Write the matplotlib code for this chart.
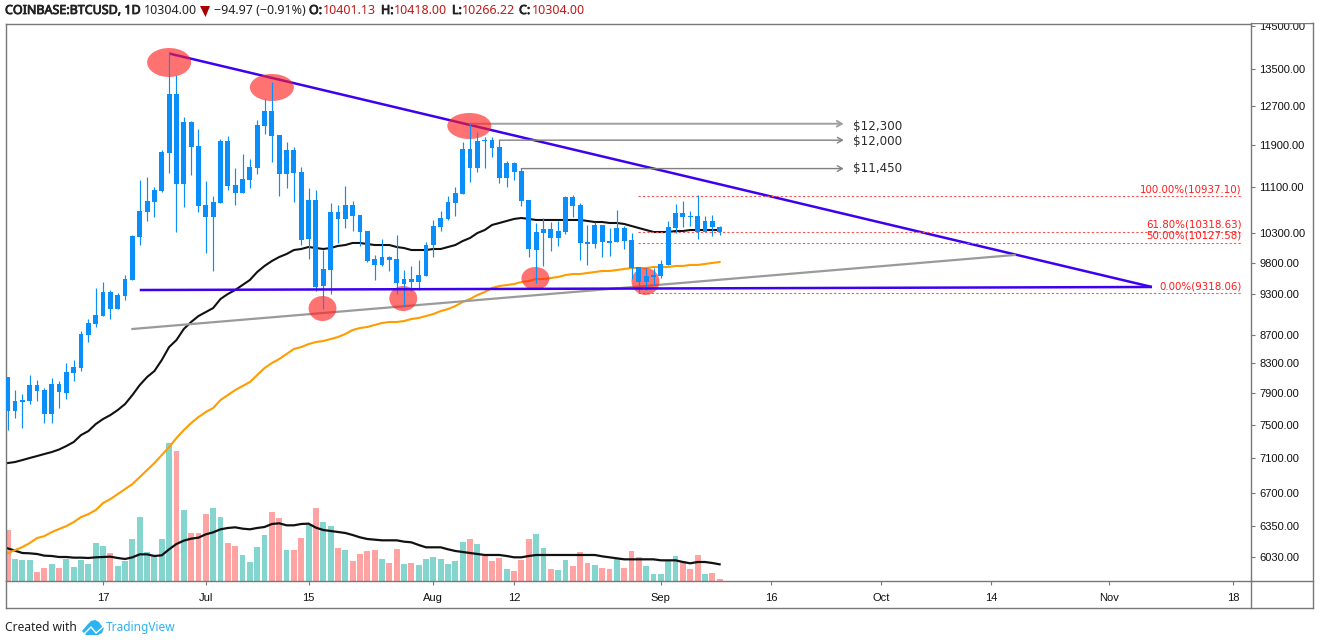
import numpy as np
import matplotlib
matplotlib.use('Agg')
import matplotlib.pyplot as plt
import matplotlib.patheffects as pe
from matplotlib.patches import Ellipse, Polygon, Rectangle
from matplotlib.lines import Line2D
from matplotlib.transforms import Affine2D

W, H = 1335, 644

# daily candles from 4 Jun 2019, index 0 is the first bar
high = [8115,7942,7890,8142,8075,7969,8102,8062,8305,8346,8756,8931,9400,9494,9369,9323,9604,10261,11236,11292,
        11107,11807,13881,13364,12469,12387,12223,11218,10943,12023,12083,11461,11729,11632,12407,12844,13211,12103,11964,11866,
        11480,11089,11052,10009,10818,10782,11126,10853,10606,10328,9927,10193,9911,10261,9684,9749,9845,10143,10518,10675,
        10943,11107,11964,12325,12163,12063,12063,12003,11594,11575,11461,10871,10466,10553,10483,10501,10943,10961,10818,10432,
        10483,10432,10379,10693,10414,10294,9732,9716,9716,9845,10501,10800,10853,10675,10961,10588,10606,10418]
body_top = [8115,7799,7812,8008,8008,7942,8022,8022,8182,8250,8712,8872,8990,9338,9338,9292,9541,10244,10675,10853,
            11052,11768,12951,12951,12366,12366,11885,10782,10835,11983,11983,11144,11255,11480,12305,12592,12592,12103,11807,11807,
            11386,10871,10871,9700,10658,10658,10782,10782,10606,10328,9861,9894,9894,9861,9541,9541,9604,10092,10414,10553,
            10835,10998,11827,11827,11983,12003,12003,11866,11556,11556,11404,10871,10311,10362,10362,10328,10925,10925,10782,10143,
            10432,10432,10159,10379,10379,10176,9732,9589,9604,9781,10397,10640,10640,10588,10588,10501,10501,10401]
body_bot = [7671,7671,7786,7799,7929,7634,7634,7916,7903,8169,8236,8698,8858,8975,9079,9079,9277,9525,10227,10658,
            10835,11034,11749,11162,11162,11866,10764,10571,10571,10818,11126,10998,10998,11236,11461,12285,12083,11348,11348,11367,
            10176,10193,9416,9431,9684,10536,10536,10588,10311,9829,9765,9765,9845,9478,9463,9494,9494,9589,10092,10397,
            10536,10818,10980,11461,11461,11983,11846,11273,11273,11386,10853,10026,10009,10294,10210,10210,10311,10764,10126,10109,
            10109,10143,10126,10143,10159,9716,9494,9494,9573,9589,9765,10379,10571,10571,10311,10311,10397,10304]
low = [7434,7583,7459,7761,7799,7521,7521,7710,7825,8062,8196,8598,8814,8975,8931,9079,9216,9525,10092,10501,
       10571,11016,11367,10311,10746,11329,10658,9960,9668,10818,11052,10782,10998,11089,11348,12123,11575,10943,11089,10835,
       10092,9861,9354,9079,9308,10126,10379,10328,10076,9813,9525,9749,9668,9308,9125,9354,9369,9589,9894,10328,
       10518,10588,10980,11199,11386,11461,11671,11181,11107,11236,10764,9894,9478,9749,9993,10076,10277,10571,9845,9765,
       10042,9894,9911,10143,10026,9541,9338,9369,9447,9557,9765,10294,10397,10414,10193,10311,10244,10266]

ma_black = [7040,7052,7075,7099,7122,7146,7169,7199,7241,7289,7373,7422,7508,7571,7621,7684,7761,7877,8008,8115,
            8196,8346,8527,8626,8785,8887,8975,9034,9094,9231,9308,9369,9447,9525,9652,9749,9829,9894,9943,10009,
            10026,10059,10042,10026,10042,10076,10092,10126,10126,10109,10092,10092,10092,10059,10042,10009,10009,10009,10026,10026,
            10059,10092,10159,10210,10294,10345,10432,10466,10501,10536,10553,10536,10518,10518,10518,10518,10518,10518,10518,10501,
            10483,10483,10466,10466,10449,10414,10379,10345,10311,10311,10311,10328,10328,10345,10345,10345,10345,10345]
ma_orange = [6067,6097,6128,6168,6220,6240,6281,6313,6344,6386,6439,6471,6514,6590,6633,6689,6744,6800,6879,6959,
             7040,7134,7229,7337,7434,7521,7596,7659,7710,7812,7877,7942,7995,8048,8142,8236,8305,8360,8429,8499,
             8527,8569,8598,8612,8640,8669,8712,8770,8799,8814,8843,8872,8887,8887,8901,8931,8946,8975,9005,9049,
             9079,9125,9186,9231,9292,9338,9400,9431,9447,9463,9494,9510,9541,9541,9557,9573,9604,9620,9620,9636,
             9652,9668,9668,9684,9700,9716,9716,9716,9732,9732,9732,9749,9749,9765,9765,9781,9797,9813]

volume = [153,66,63,63,27,39,51,39,66,42,63,51,114,105,84,45,60,126,192,87,
          75,126,414,390,213,144,144,201,219,192,114,105,78,57,102,138,207,189,93,93,
          129,168,219,177,165,99,93,60,81,90,93,66,54,96,51,54,48,66,72,66,
          51,60,117,126,111,75,60,69,36,30,63,126,141,99,36,33,63,45,87,54,
          48,39,36,66,39,90,72,45,21,21,63,75,60,36,78,21,24,6]
vol_dir = list('rgggrrgr' + 'gggggg' + 'r' + 'gggggggg' + 'rg' + 'rrr' + 'gg' + 'rr' + 'gggg' + 'rr' + 'g' + 'rr' + 'gr' + 'gg'
               + 'rg' + 'rrrr' + 'g' + 'rr' + 'gr' + 'ggggggg' + 'rg' + 'rrr' + 'g' + 'rrr' + 'gg' + 'r' + 'gg' + 'rrr'
               + 'g' + 'rr' + 'g' + 'rrr' + 'ggggg' + 'rrr' + 'g' + 'rr')
vol_ma = [98,91,84,83,81,76,75,72,72,70,70,69,71,72,73,69,66,71,80,80,
          75,77,95,111,121,127,130,140,146,155,159,161,157,155,159,162,171,173,167,167,
          171,172,160,153,150,147,144,138,131,126,124,122,122,122,118,116,108,101,101,101,
          95,90,87,84,81,78,78,78,75,71,71,75,78,78,78,78,78,78,78,78,
          78,74,71,68,65,65,65,65,65,62,62,62,57,53,57,57,54,50]

price_ticks = [14500,13500,12700,11900,11100,10300,9800,9300,8700,8300,7900,7500,7100,6700,6350,6030]
date_pos = [13,27,41,58,69,89,104,119,134,150,167]
date_labels = ['17','Jul','15','Aug','12','Sep','16','Oct','14','Nov','18']

fib_levels = [10937.10,10318.63,10127.58,9318.06]
fib_labels = ['100.00%(10937.10)','61.80%(10318.63)','50.00%(10127.58)','0.00%(9318.06)']

# drawings: day index, low price, high price, width in days
blobs = [(22,13320,13973,6),(36,12802,13386,6),(62.9,12023,12551,6),(42.9,8901,9277,3.8),
         (53.9,9049,9431,3.8),(71.9,9369,9732,3.8),(86.9,9292,9716,3.8)]
targets = [(63,12330,12270,'$12,300','#a0a0a0',1.4),(67,12000,11977,'$12,000','#808080',1.0),(70,11450,11445,'$11,450','#808080',1.0)]

days = np.arange(len(high))

fig = plt.figure(figsize=(W/100,H/100),dpi=100)
rect = [5.5/W,1-581/H,1245/W,557.5/H]

vol_ax = fig.add_axes(rect,zorder=0)
ax = fig.add_axes(rect,zorder=1)
ax.patch.set_visible(False)

bar_cols = ['#84d5ce' if d=='g' else '#ffa3a3' for d in vol_dir]
vol_ax.bar(days,volume,width=0.8,color=bar_cols,linewidth=0)
vol_ax.plot(days,vol_ma,color='#111111',lw=1.6)
vol_ax.set_xlim(-0.29,169.33)
vol_ax.set_ylim(0,1672)
vol_ax.axis('off')

ax.set_yscale('log')
ax.plot(days,ma_black,color='#111111',lw=1.5,zorder=2)
ax.plot(days,ma_orange,color='#ff9d00',lw=1.5,zorder=2)

# trend lines
ax.plot([22,155.9],[13847,9416],color='#3d00f0',lw=1.8,zorder=2,solid_capstyle='butt')
ax.plot([18,155.9],[9369,9416],color='#3d00f0',lw=1.8,zorder=5,solid_capstyle='butt')
ax.plot([17,137.2],[8785,9927],color='#9a9a9a',lw=1.6,zorder=2)

for cx,lo,hi,wd in blobs:
    ax.add_patch(Ellipse((cx,(lo+hi)/2),wd,hi-lo,facecolor='#ff2020',alpha=0.63,linewidth=0,zorder=3))

ax.vlines(days,low,high,color='#0a8ffa',lw=0.85,zorder=4)
ax.bar(days,np.array(body_top)-np.array(body_bot),bottom=body_bot,width=0.66,color='#0a8ffa',linewidth=0,zorder=4)

# fib levels
for lev,lab in zip(fib_levels,fib_labels):
    ax.plot([85.9,168.1],[lev,lev],color='#ff5050',lw=0.8,ls=(0,(2,2)),zorder=2)
    ax.annotate(lab,xy=(168.1,lev),xytext=(0,5),textcoords='offset points',ha='right',va='center',
                color='#ff1a1a',fontsize=7.4,family='DejaVu Sans')

for start,lev,lab_y,lab,col,wid in targets:
    ax.annotate('',xy=(113.9,lev),xytext=(start,lev),
                arrowprops=dict(arrowstyle='->,head_length=0.35,head_width=0.2',color=col,lw=wid,shrinkA=0,shrinkB=0),zorder=2)
    ax.text(115.2,lab_y,lab,ha='left',va='center',color='#2b2b2b',fontsize=8.6,family='DejaVu Sans')

ax.set_xlim(-0.29,169.33)
ax.set_ylim(5794,14550)
ax.yaxis.tick_right()
ax.set_yticks(price_ticks)
ax.set_yticklabels(['%.2f' % t for t in price_ticks])
ax.yaxis.set_minor_locator(plt.NullLocator())
ax.yaxis.set_minor_formatter(plt.NullFormatter())
ax.set_xticks(date_pos)
ax.set_xticklabels(date_labels)
ax.tick_params(axis='y',length=3.2,width=0.8,color='#787878',pad=3.2,labelsize=8,labelcolor='#111111')
ax.tick_params(axis='x',length=3,width=0.8,color='#787878',pad=5.5,labelsize=8,labelcolor='#111111')
for lab in ax.get_xticklabels()+ax.get_yticklabels():
    lab.set_family('Liberation Sans')
for s in ax.spines.values():
    s.set_color('#787878')
    s.set_linewidth(1.0)

# pixel helper for the things around the plot
pix = Affine2D().scale(1/W,-1/H).translate(0,1)+fig.transFigure

def frame(xs,ys):
    fig.add_artist(Line2D(xs,ys,color='#787878',lw=1.0,transform=pix))

frame([5.5,5.5],[581,608])
frame([1250.5,1250.5],[581,608])
frame([1250.5,1312.5],[23.5,23.5])
frame([1250.5,1312.5],[581,581])
frame([5.5,1312.5],[608,608])
frame([1312.5,1312.5],[23.5,608])
# 14500 label gets cut by the frame in the original
fig.add_artist(Rectangle((1252,12),59,11,facecolor='white',linewidth=0,transform=pix,zorder=10))

def head(x,s,color='#222222',bold=False):
    t = fig.text(x/W,1-10.5/H,s,color=color,fontsize=9.0,family='Noto Sans',ha='left',va='center')
    if bold:
        # the installed face does not come out heavy enough, thicken it
        t.set_path_effects([pe.withStroke(linewidth=0.6,foreground=color)])

head(5,'COINBASE:BTCUSD, 1D',bold=True)
head(143.5,'10304.00')
fig.add_artist(Polygon([(200,6),(210,6),(205.5,17)],closed=True,facecolor='#a80000',linewidth=0,transform=pix))
head(213.5,'\u221294.97 (\u22120.91%)')
for x,s in [(309,'O:'),(381,'H:'),(452,'L:'),(519,'C:')]:
    head(x,s,bold=True)
for x,s in [(323,'10401.13'),(394,'10418.00'),(462,'10266.22'),(532,'10304.00')]:
    head(x,s,color='#c01818')

fig.text(5/W,1-627.5/H,'Created with',color='#222222',fontsize=8.6,family='Noto Sans',ha='left',va='center')
fig.text(105.5/W,1-627.5/H,'TradingView',color='#2cb4f0',fontsize=8.6,family='Noto Sans',ha='left',va='center')
fig.add_artist(Polygon([(82,631),(88,624),(91,621),(95,620),(99,622),(101,625),(104,628),(102,633),(98,635),(86,635)],
                       closed=True,facecolor='#2cb4f0',linewidth=0,transform=pix))
fig.add_artist(Line2D([83,91,96,103],[635,627,633,627],color='white',lw=1.0,transform=pix))

fig.savefig('out.png',dpi=100)
